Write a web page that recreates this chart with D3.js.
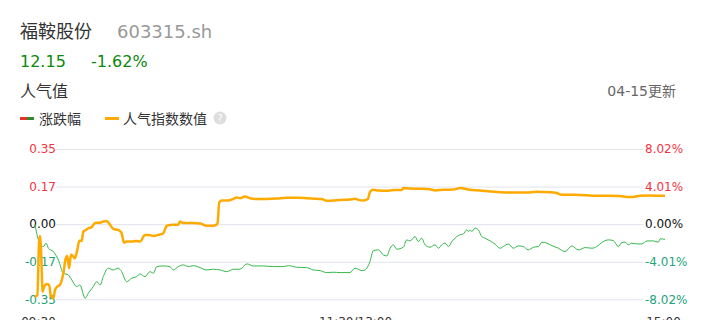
<!DOCTYPE html>
<html>
<head>
<meta charset="utf-8">
<script src="https://cdn.jsdelivr.net/npm/d3@7"></script>
<style>
body { margin: 0; background: #fff; }
svg text { font-family: "DejaVu Sans", "Noto Sans CJK SC", sans-serif; }
</style>
</head>
<body>
<div id="chart"></div>
<script>
// minutes since 09:30 (trading time, lunch break removed)
var changeMin = [0,1.3,3.2,4.2,5.1,7.0,8.9,10.8,12.7,14.0,15.9,17.1,19.1,20.3,22.2,23.5,24.8,26.0,27.9,29.8,31.7,33.0,34.9,36.8,38.7,40.0,41.9,43.8,45.1,46.4,48.9,51.4,52.7,54.6,56.5,58.4,60.3,62.9,65.4,67.9,70.5,73.0,75.6,78.1,80.7,83.2,87.0,90.8,94.6,96.5,99.7,103.5,106.0,108.6,111.1,113.6,116.2,120.0,121.9,123.2,124.5,125.7,127.6,128.9,130.8,132.7,134.0,135.3,136.5,137.8,140.3,141.6,142.9,144.8,146.0,147.3,148.6,150.5,152.4,153.7,154.9,156.2,157.5,158.8,160.7,161.9,163.2,164.5,165.1,165.7,166.4,167.6,168.9,170.2,171.5,173.4,175.3,177.2,178.4,180.3,182.2,184.1,186.0,187.9,189.9,191.8,193.1,195.0,196.9,199.4,201.9,204.5,207.0,209.6,212.1,214.0,215.9,218.4,220.3,222.2,223.5,224.8,226.0,227.3,229.2,231.2,233.1,235.6,237.5,238.1,240];
// 涨跌幅 (%)
var changePct = [0,-1.68,-2.39,-2.03,-2.57,-2.93,-3.82,-5.24,-5.42,-5.95,-6.67,-6.49,-7.91,-7.38,-6.67,-6.14,-6.49,-5.60,-4.70,-4.89,-4.70,-5.07,-6.14,-5.77,-5.60,-5.31,-5.60,-5.07,-5.24,-4.53,-4.46,-4.53,-4.89,-4.53,-4.35,-4.53,-4.43,-4.64,-4.89,-4.81,-4.89,-5.07,-4.81,-4.81,-4.24,-4.46,-4.46,-4.53,-4.53,-4.43,-4.60,-4.64,-4.89,-4.96,-5.17,-5.13,-5.17,-5.17,-4.70,-4.81,-4.96,-4.89,-4.00,-2.82,-2.75,-3.28,-3.39,-2.57,-2.21,-2.67,-2.46,-1.68,-1.79,-1.33,-1.86,-1.50,-2.21,-2.46,-2.21,-2.57,-2.21,-2.03,-2.39,-1.86,-1.33,-1.14,-1.04,-0.61,-0.79,-0.61,-0.79,-0.43,-0.61,-1.33,-1.50,-1.79,-2.14,-2.57,-2.39,-2.11,-2.57,-2.32,-2.39,-2.75,-2.46,-2.39,-1.92,-2.03,-2.29,-2.57,-2.93,-2.32,-2.75,-2.50,-2.57,-2.39,-1.97,-1.68,-1.75,-2.39,-1.97,-1.92,-2.21,-2.03,-2.11,-2.11,-1.79,-1.79,-1.92,-1.57,-1.62];

var hotMin = [0,0.9,1.6,2.0,2.4,2.9,3.5,4.5,5.4,6.0,7.0,7.6,8.5,9.5,10.8,11.7,12.3,13.0,13.7,14.4,15.2,16.1,16.9,17.8,18.4,19.4,20.3,21.6,22.9,24.8,26.0,27.3,28.6,29.8,31.7,33.0,33.9,34.9,36.8,38.7,40.0,41.9,43.2,45.1,47.0,48.9,50.2,52.7,54.6,55.2,56.5,58.4,60.3,62.9,65.4,67.9,69.5,70.2,71.1,73.6,75.6,76.8,78.1,80.0,81.9,84.5,88.3,92.1,95.9,99.7,103.5,107.3,109.2,111.1,113.6,116.2,120.0,121.9,123.2,125.1,126.8,127.6,128.7,130.8,134.0,136.5,139.7,140.3,142.9,146.7,150.5,152.4,155.6,159.4,161.9,165.7,169.5,173.4,177.2,182.2,187.3,191.1,196.2,198.7,200.6,205.1,210.2,212.7,217.8,222.9,225.4,227.9,230.5,234.3,238.1,240];
// 人气指数数值
var hotVal = [-0.338,-0.330,-0.073,-0.055,-0.151,-0.315,-0.291,-0.279,-0.284,-0.330,-0.345,-0.307,-0.291,-0.283,-0.229,-0.159,-0.148,-0.205,-0.143,-0.148,-0.159,-0.120,-0.077,-0.078,-0.035,-0.027,-0.019,-0.014,0.005,0.007,0.012,0.015,-0.003,-0.022,-0.027,-0.042,-0.086,-0.081,-0.081,-0.078,-0.081,-0.050,-0.050,-0.055,-0.050,-0.042,-0.007,-0.003,-0.003,0.012,0.005,0.005,0.005,0.003,-0.007,-0.007,0.001,0.101,0.110,0.110,0.118,0.124,0.121,0.129,0.121,0.117,0.117,0.119,0.123,0.123,0.121,0.118,0.117,0.109,0.110,0.113,0.115,0.118,0.113,0.110,0.117,0.149,0.160,0.157,0.155,0.159,0.159,0.168,0.166,0.165,0.163,0.157,0.160,0.161,0.168,0.160,0.157,0.152,0.149,0.147,0.147,0.151,0.149,0.145,0.137,0.137,0.135,0.132,0.132,0.131,0.127,0.127,0.132,0.133,0.132,0.132];

var leftTicks = [0.35, 0.175, 0, -0.175, -0.35];
var leftLabels = ["0.35", "0.17", "0.00", "-0.17", "-0.35"];
var rightTicks = [8.02, 4.01, 0, -4.01, -8.02];
var rightLabels = ["8.02%", "4.01%", "0.00%", "-4.01%", "-8.02%"];
var timeTicks = [0, 120, 240];
var timeLabels = ["09:30", "11:30/13:00", "15:00"];

var W = 707, H = 320;
var red = "#f5333f", teal = "#23a37c", green = "#35b84a", orange = "#ffaa00";

var svg = d3.select("#chart").append("svg").attr("width", W).attr("height", H);

// header
svg.append("text").text("福鞍股份").attr("x", 20).attr("y", 38).attr("font-size", "18px").attr("fill", "#333");
svg.append("text").text("603315.sh").attr("x", 117).attr("y", 38).attr("font-size", "18px").attr("fill", "#999");
svg.append("text").text("12.15").attr("x", 20).attr("y", 67).attr("font-size", "16px").attr("fill", "#0a8a0a");
svg.append("text").text("-1.62%").attr("x", 91).attr("y", 67).attr("font-size", "16px").attr("fill", "#0a8a0a");
svg.append("text").text("人气值").attr("x", 20).attr("y", 97).attr("font-size", "16px").attr("fill", "#333");
svg.append("text").text("04-15更新").attr("x", 676).attr("y", 96).attr("text-anchor", "end").attr("font-size", "14px").attr("fill", "#666");

// legend
svg.append("rect").attr("x", 20).attr("y", 117).attr("width", 7).attr("height", 3).attr("fill", "#e63329");
svg.append("rect").attr("x", 27).attr("y", 117).attr("width", 7).attr("height", 3).attr("fill", "#2e8b2e");
svg.append("text").text("涨跌幅").attr("x", 39).attr("y", 124).attr("font-size", "14px").attr("fill", "#333");
svg.append("rect").attr("x", 105).attr("y", 117).attr("width", 14).attr("height", 3).attr("fill", orange);
svg.append("text").text("人气指数数值").attr("x", 123).attr("y", 124).attr("font-size", "14px").attr("fill", "#333");
svg.append("circle").attr("cx", 220).attr("cy", 118).attr("r", 6.5).attr("fill", "#ddd");
svg.append("text").text("?").attr("x", 220).attr("y", 122).attr("text-anchor", "middle").attr("font-size", "10px").attr("fill", "#fff");

// scales
var x = d3.scaleLinear().domain([0, 240]).range([35, 665]);
var yL = d3.scaleLinear().domain([-0.35, 0.35]).range([299.3, 149]);
var yR = d3.scaleLinear().domain([-8.02, 8.02]).range([299.3, 149]);

function tickColor(v) { return v > 0 ? red : (v < 0 ? teal : "#111"); }

// grid
var grid = svg.append("g").attr("transform", "translate(643,0)")
  .call(d3.axisLeft(yL).tickValues(leftTicks).tickSize(643 - 56).tickFormat(""));
grid.select(".domain").remove();
grid.selectAll("line").attr("stroke", "#e1e4ec");

// left axis
var ax = svg.append("g").attr("transform", "translate(57,0)")
  .call(d3.axisLeft(yL).tickValues(leftTicks).tickSize(0).tickPadding(1).tickFormat(function(d, i) { return leftLabels[i]; }));
ax.select(".domain").remove();
ax.selectAll("text").attr("font-size", "12px").attr("font-family", null).attr("fill", function(d) { return tickColor(d); });

// right axis
var ar = svg.append("g").attr("transform", "translate(644,0)")
  .call(d3.axisRight(yR).tickValues(rightTicks).tickSize(0).tickPadding(1).tickFormat(function(d, i) { return rightLabels[i]; }));
ar.select(".domain").remove();
ar.selectAll("text").attr("font-size", "12px").attr("font-family", null).attr("fill", function(d) { return tickColor(d); });

// time axis
var at = svg.append("g").attr("transform", "translate(0,314)")
  .call(d3.axisBottom(x).tickValues(timeTicks).tickSize(0).tickFormat(function(d, i) { return timeLabels[i]; }));
at.select(".domain").remove();
at.selectAll("text").attr("font-size", "12px").attr("font-family", null).attr("fill", "#333")
  .attr("dx", function(d, i) { return [3, 5, -2][i]; });

// lines
var changeData = changeMin.map(function(m, i) { return [m, changePct[i]]; });
var hotData = hotMin.map(function(m, i) { return [m, hotVal[i]]; });

svg.append("path").datum(changeData)
  .attr("fill", "none").attr("stroke", green).attr("stroke-width", 1)
  .attr("d", d3.line().x(function(d) { return x(d[0]); }).y(function(d) { return yR(d[1]); }).curve(d3.curveMonotoneX));

svg.append("path").datum(hotData)
  .attr("fill", "none").attr("stroke", orange).attr("stroke-width", 2.5).attr("stroke-linejoin", "round")
  .attr("d", d3.line().x(function(d) { return x(d[0]); }).y(function(d) { return yL(d[1]); }).curve(d3.curveMonotoneX));
</script>
</body>
</html>
